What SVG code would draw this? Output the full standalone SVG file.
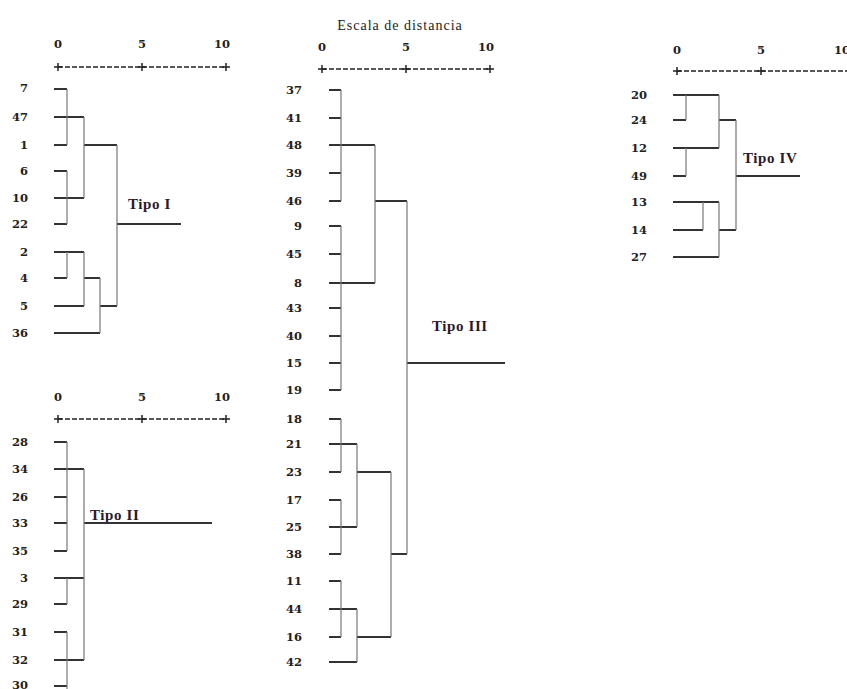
<svg xmlns="http://www.w3.org/2000/svg" width="847" height="689" viewBox="0 0 847 689">
<style>
.lbl{font-family:"DejaVu Serif","Liberation Serif",serif;font-weight:bold;font-size:11.5px;fill:#222;text-anchor:end}
.ax{font-family:"DejaVu Serif","Liberation Serif",serif;font-weight:bold;font-size:11.5px;fill:#222;text-anchor:middle}
.tipo{font-family:"Liberation Serif",serif;font-weight:bold;font-size:15px;letter-spacing:0.6px;fill:#2a1a2a}
.ttl{font-family:"Liberation Serif",serif;font-size:14px;letter-spacing:1px;fill:#222;text-anchor:middle}
.h{stroke:#333;stroke-width:2;fill:none}
.v{stroke:#777;stroke-width:1.2;fill:none}
.dash{stroke:#222;stroke-width:1.5;stroke-dasharray:5 2;fill:none}
.plus{stroke:#222;stroke-width:1.5;fill:none}
</style>
<defs>
<path id="pl" d="M-4 0H4M0 -4V4" class="plus"/>
</defs>
<rect width="847" height="689" fill="#fff"/>

<!-- Panel I -->
<g id="axis1">
<text class="ax" x="58" y="48">0</text><text class="ax" x="142" y="48">5</text><text class="ax" x="222" y="48">10</text>
<path class="dash" d="M58 67H226"/>
<use href="#pl" x="58" y="67"/><use href="#pl" x="142" y="67"/><use href="#pl" x="226" y="67"/>
</g>
<g id="leaves1">
<g id="n7"><text class="lbl" x="28" y="92">7</text></g>
<g id="n47"><text class="lbl" x="28" y="121">47</text></g>
<g id="n1"><text class="lbl" x="28" y="149">1</text></g>
<g id="n6"><text class="lbl" x="28" y="175">6</text></g>
<g id="n10"><text class="lbl" x="28" y="202">10</text></g>
<g id="n22"><text class="lbl" x="28" y="228">22</text></g>
<g id="n2"><text class="lbl" x="28" y="256">2</text></g>
<g id="n4"><text class="lbl" x="28" y="282">4</text></g>
<g id="n5"><text class="lbl" x="28" y="310">5</text></g>
<g id="n36"><text class="lbl" x="28" y="337">36</text></g>
</g>
<g id="tipo1"><text class="tipo" x="128" y="209">Tipo I</text></g>

<!-- Panel II -->
<g id="axis2">
<text class="ax" x="58" y="401">0</text><text class="ax" x="142" y="401">5</text><text class="ax" x="222" y="401">10</text>
<path class="dash" d="M58 419H226"/>
<use href="#pl" x="58" y="419"/><use href="#pl" x="142" y="419"/><use href="#pl" x="226" y="419"/>
</g>
<g id="leaves2">
<g id="n28"><text class="lbl" x="28" y="446">28</text></g>
<g id="n34"><text class="lbl" x="28" y="473">34</text></g>
<g id="n26"><text class="lbl" x="28" y="501">26</text></g>
<g id="n33"><text class="lbl" x="28" y="527">33</text></g>
<g id="n35"><text class="lbl" x="28" y="555">35</text></g>
<g id="n3"><text class="lbl" x="28" y="582">3</text></g>
<g id="n29"><text class="lbl" x="28" y="608">29</text></g>
<g id="n31"><text class="lbl" x="28" y="636">31</text></g>
<g id="n32"><text class="lbl" x="28" y="664">32</text></g>
<g id="n30"><text class="lbl" x="28" y="689">30</text></g>
</g>
<g id="tipo2"><text class="tipo" x="90" y="520">Tipo II</text></g>

<!-- Panel III -->
<g id="title3"><text class="ttl" x="400" y="30">Escala de distancia</text></g>
<g id="axis3">
<text class="ax" x="322" y="51">0</text><text class="ax" x="406" y="51">5</text><text class="ax" x="486" y="51">10</text>
<path class="dash" d="M322 69H490"/>
<use href="#pl" x="322" y="69"/><use href="#pl" x="406" y="69"/><use href="#pl" x="490" y="69"/>
</g>
<g id="leaves3">
<g id="n37"><text class="lbl" x="302" y="94">37</text></g>
<g id="n41"><text class="lbl" x="302" y="122">41</text></g>
<g id="n48"><text class="lbl" x="302" y="149">48</text></g>
<g id="n39"><text class="lbl" x="302" y="177">39</text></g>
<g id="n46"><text class="lbl" x="302" y="205">46</text></g>
<g id="n9"><text class="lbl" x="302" y="230">9</text></g>
<g id="n45"><text class="lbl" x="302" y="258">45</text></g>
<g id="n8"><text class="lbl" x="302" y="287">8</text></g>
<g id="n43"><text class="lbl" x="302" y="312">43</text></g>
<g id="n40"><text class="lbl" x="302" y="340">40</text></g>
<g id="n15"><text class="lbl" x="302" y="367">15</text></g>
<g id="n19"><text class="lbl" x="302" y="394">19</text></g>
<g id="n18"><text class="lbl" x="302" y="423">18</text></g>
<g id="n21"><text class="lbl" x="302" y="448">21</text></g>
<g id="n23"><text class="lbl" x="302" y="476">23</text></g>
<g id="n17"><text class="lbl" x="302" y="504">17</text></g>
<g id="n25"><text class="lbl" x="302" y="531">25</text></g>
<g id="n38"><text class="lbl" x="302" y="558">38</text></g>
<g id="n11"><text class="lbl" x="302" y="585">11</text></g>
<g id="n44"><text class="lbl" x="302" y="613">44</text></g>
<g id="n16"><text class="lbl" x="302" y="641">16</text></g>
<g id="n42"><text class="lbl" x="302" y="666">42</text></g>
</g>
<g id="tipo3"><text class="tipo" x="432" y="331">Tipo III</text></g>

<!-- Panel IV -->
<g id="axis4">
<text class="ax" x="677" y="54">0</text><text class="ax" x="761" y="54">5</text><text class="ax" x="842" y="54">10</text>
<path class="dash" d="M677 71H850"/>
<use href="#pl" x="677" y="71"/><use href="#pl" x="761" y="71"/>
</g>
<g id="leaves4">
<g id="n20"><text class="lbl" x="647" y="99">20</text></g>
<g id="n24"><text class="lbl" x="647" y="124">24</text></g>
<g id="n12"><text class="lbl" x="647" y="152">12</text></g>
<g id="n49"><text class="lbl" x="647" y="180">49</text></g>
<g id="n13"><text class="lbl" x="647" y="206">13</text></g>
<g id="n14"><text class="lbl" x="647" y="234">14</text></g>
<g id="n27"><text class="lbl" x="647" y="261">27</text></g>
</g>
<g id="tipo4"><text class="tipo" x="743" y="163">Tipo IV</text></g>

<g id="connectors">
<!-- Panel I -->
<path class="h" d="M54 89H67M54 117H84M54 145H67M84 145H117M54 171H67M54 198H84M54 224H67M117 224H181M54 252H84M54 278H67M84 278H100M54 306H84M100 306H117M54 333H100"/>
<path class="v" d="M67 89V145M84 117V198M67 171V224M117 145V306M67 252V278M84 252V306M100 278V333"/>
<!-- Panel II -->
<path class="h" d="M54 442H67M54 469H84M54 497H67M54 523H67M84 523H212M54 551H67M54 578H84M54 604H67M54 632H67M54 660H84M54 686H67"/>
<path class="v" d="M67 442V551M84 469V660M67 578V604M67 632V689"/>
<!-- Panel III -->
<path class="h" d="M329 90H341M329 118H341M329 145H375M329 173H341M329 201H341M375 201H407M329 226H341M329 254H341M329 283H375M329 308H341M329 336H341M329 363H341M407 363H505M329 390H341M329 419H341M329 444H357M329 472H341M357 472H391M329 500H341M329 527H357M329 554H341M391 554H407M329 581H341M329 609H357M329 637H341M357 637H391M329 662H357"/>
<path class="v" d="M341 90V201M375 145V283M341 226V390M407 201V554M341 419V472M341 500V554M357 444V527M391 472V637M341 581V637M357 609V662"/>
<!-- Panel IV -->
<path class="h" d="M673 95H719M673 120H686M719 120H736M673 148H719M673 176H686M736 176H800M673 202H719M673 230H703M719 230H736M673 257H719"/>
<path class="v" d="M686 95V120M686 148V176M719 95V148M736 120V230M703 202V230M719 202V257"/>
</g>
</svg>
